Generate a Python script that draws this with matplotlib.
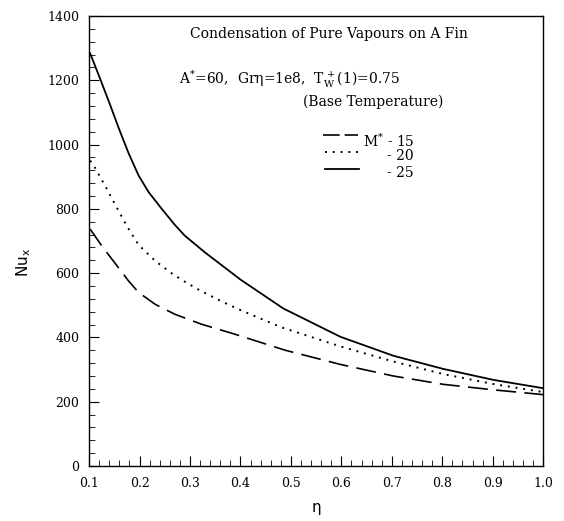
import matplotlib
matplotlib.use("Agg")
import matplotlib.pyplot as plt
from matplotlib.ticker import MultipleLocator

plt.rcParams['font.family'] = ['DejaVu Serif']
plt.rcParams['mathtext.fontset'] = 'dejavuserif'

# data (eta, Nu_x) for M* = 15, 20, 25
eta_15 = [0.102, 0.125, 0.145, 0.165, 0.178, 0.198, 0.231, 0.270, 0.323, 0.389,
          0.489, 0.598, 0.703, 0.802, 0.901, 1.0]
nu_15 = [737, 685, 644, 603, 576, 540, 503, 472, 441, 410,
         360, 316, 280, 254, 237, 222]

eta_20 = [0.102, 0.109, 0.118, 0.135, 0.158, 0.175, 0.198, 0.231, 0.264, 0.290,
          0.320, 0.364, 0.400, 0.480, 0.598, 0.703, 0.802, 0.901, 1.0]
nu_20 = [950, 936, 910, 862, 795, 746, 688, 638, 599, 573,
         546, 511, 485, 432, 372, 325, 286, 255, 230]

eta_25 = [0.102, 0.122, 0.142, 0.158, 0.178, 0.198, 0.218, 0.244, 0.270, 0.290,
          0.330, 0.400, 0.485, 0.598, 0.703, 0.802, 0.901, 1.0]
nu_25 = [1284, 1204, 1122, 1054, 974, 904, 852, 800, 750, 716,
         664, 580, 490, 402, 343, 302, 268, 242]


def main():
    fig = plt.figure(figsize=(5.64, 5.21), dpi=100)
    ax = fig.add_axes([0.158, 0.1056, 0.805, 0.8637])

    ax.plot(eta_15, nu_15, color='black', lw=1.2, linestyle=(0, (12, 5)))
    ax.plot(eta_20, nu_20, color='black', lw=1.4, linestyle=(0, (1, 3)))
    ax.plot(eta_25, nu_25, color='black', lw=1.3, linestyle='-')

    ax.set_xlim(0.1, 1.0)
    ax.set_ylim(0, 1400)
    ax.xaxis.set_major_locator(MultipleLocator(0.1))
    ax.xaxis.set_minor_locator(MultipleLocator(0.02))
    ax.yaxis.set_major_locator(MultipleLocator(200))
    ax.yaxis.set_minor_locator(MultipleLocator(40))
    ax.xaxis.set_major_formatter(plt.FuncFormatter(lambda v, p: f"{v:.1f}"))
    ax.tick_params(which='both', direction='in', top=False, right=False, labelsize=9)
    ax.tick_params(which='major', length=7, width=0.8)
    ax.tick_params(which='minor', length=4, width=0.6)
    ax.tick_params(axis='x', pad=8)
    ax.tick_params(axis='y', pad=7)
    for s in ax.spines.values():
        s.set_linewidth(1.0)

    ax.set_xlabel('η', family='DejaVu Sans', fontsize=11)
    ax.xaxis.set_label_coords(0.5, -0.075)
    ax.set_ylabel(r'Nu$_\mathregular{x}$', family='DejaVu Sans', fontsize=11)
    ax.yaxis.label.set_math_fontfamily('dejavusans')
    ax.yaxis.set_label_coords(-0.124, 0.453)

    tr = ax.transAxes
    fs = 10
    ax.text(0.2225, 0.96, 'Condensation of Pure Vapours on A Fin', transform=tr,
            ha='left', va='center', fontsize=fs)
    ax.text(0.198, 0.86, r'A$^{*}$=60,  Grη=1e8,  T$_{\rm W}^{\,+}$(1)=0.75', transform=tr,
            ha='left', va='center', fontsize=fs)
    ax.text(0.471, 0.81, '(Base Temperature)', transform=tr,
            ha='left', va='center', fontsize=fs)

    # legend drawn by hand
    ax.plot([0.515, 0.592], [0.736, 0.736], transform=tr, color='black', lw=1.2,
            linestyle=(0, (10, 3)))
    ax.plot([0.520, 0.592], [0.698, 0.698], transform=tr, color='black', lw=1.4,
            linestyle=(0, (1, 3)))
    ax.plot([0.520, 0.594], [0.660, 0.660], transform=tr, color='black', lw=1.3)
    ax.text(0.6035, 0.722, 'M$^{*}$ - 15', transform=tr, ha='left', va='center', fontsize=fs)
    ax.text(0.656, 0.689, '- 20', transform=tr, ha='left', va='center', fontsize=fs)
    ax.text(0.656, 0.651, '- 25', transform=tr, ha='left', va='center', fontsize=fs)

    fig.savefig('out.png', dpi=100)


if __name__ == "__main__":
    main()
